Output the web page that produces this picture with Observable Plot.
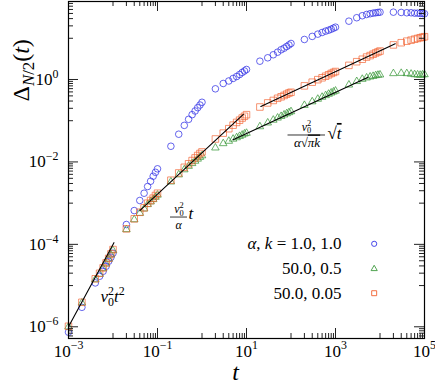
<!DOCTYPE html>
<html><head><meta charset="utf-8">
<script src="https://cdn.jsdelivr.net/npm/d3@7"></script>
<script src="https://cdn.jsdelivr.net/npm/@observablehq/plot@0.6"></script>
<style>html,body{margin:0;padding:0;background:#fff} svg{display:block} svg text{font-family:"Liberation Serif","DejaVu Serif",serif !important}</style>
</head><body><div id="chart"></div>
<script>
// ---- data ----
const times = [
  0.001,0.002,0.004,0.005,0.006,0.007,0.008,0.009,0.01,
  0.02,0.03,0.04,0.05,0.06,0.07,0.08,0.09,0.1,
  0.2,0.3,0.4,0.5,0.6,0.7,0.8,0.9,1,
  2,3,4,5,6,7,8,9,10,
  20,30,40,50,60,70,80,90,100,
  200,300,400,500,600,700,800,900,1000,
  2000,3000,4000,5000,6000,7000,8000,9000,10000,
  20000,30000,40000,50000,60000,70000,80000,90000,100000
];
const deltaA1k1 = [
  7.4e-7,2.97e-6,1.16e-5,1.68e-5,2.22e-5,2.94e-5,3.89e-5,4.86e-5,6.1e-5,
  3.03e-4,6.6e-4,1.16e-3,1.74e-3,2.53e-3,3.4e-3,4.5e-3,5.6e-3,6.8e-3,
  0.024,0.047,0.077,0.108,0.14,0.172,0.207,0.24,0.28,
  0.594,0.80,0.92,1.06,1.18,1.32,1.48,1.61,1.75,
  2.78,3.36,3.98,4.6,5.26,5.75,6.32,6.88,7.48,
  9.35,11.1,12.6,13.8,14.9,15.7,16.6,17.6,18.6,
  26.0,31.5,35.2,37.8,39.4,40.7,41.6,42.3,43.0,
  43.0,42.3,41.6,41.6,40.7,40.7,40.0,40.0,39.4
];
const deltaA50k05 = [
  1.0e-6,3.8e-6,1.4e-5,1.9e-5,2.6e-5,3.4e-5,4.4e-5,5.6e-5,7.1e-5,
  2.3e-4,4.0e-4,5.7e-4,7.3e-4,9.3e-4,1.08e-3,1.23e-3,1.4e-3,1.58e-3,
  3.3e-3,4.9e-3,6.5e-3,7.9e-3,9.2e-3,1.05e-2,1.18e-2,1.3e-2,1.42e-2,
  0.022,0.028,0.032,0.036,0.039,0.042,0.045,0.048,0.05,
  0.072,0.089,0.104,0.117,0.128,0.139,0.149,0.158,0.167,
  0.237,0.29,0.335,0.374,0.41,0.443,0.474,0.502,0.528,
  0.74,0.9,1.02,1.1,1.16,1.2,1.25,1.28,1.3,
  1.4,1.42,1.4,1.36,1.32,1.3,1.28,1.3,1.32
];
const deltaA50k005 = [
  1.03e-6,3.93e-6,1.46e-5,1.99e-5,2.69e-5,3.55e-5,4.57e-5,5.87e-5,7.48e-5,
  2.38e-4,4.16e-4,6.0e-4,7.69e-4,9.95e-4,1.16e-3,1.32e-3,1.53e-3,1.74e-3,
  3.6e-3,5.4e-3,7.4e-3,9.0e-3,1.08e-2,1.25e-2,1.43e-2,1.6e-2,1.75e-2,
  0.036,0.05,0.064,0.078,0.091,0.103,0.116,0.128,0.14,
  0.215,0.27,0.31,0.35,0.38,0.41,0.44,0.47,0.49,
  0.70,0.86,0.99,1.1,1.2,1.3,1.4,1.48,1.56,
  2.2,2.7,3.1,3.5,3.8,4.1,4.4,4.65,4.9,
  6.9,7.8,8.5,9.0,9.5,9.9,10.3,10.6,10.9
];
// reference scaling lines (end points)
const fitNames = ["t2", "t", "sqrt_green", "sqrt_orange"];
const fitT = [[1e-3, 1.05e-2], [0.04, 8.5], [5, 5400], [21, 22000]];
const fitDelta = [[1e-6, 1.1e-4], [6.6e-4, 0.142], [0.0344, 1.13], [0.221, 7.35]];

const legendLabels = ["$α$, $k$ = 1.0, 1.0", "50.0, 0.5", "50.0, 0.05"];
const xMajorTicks = [1e-3, 1e-1, 1e1, 1e3, 1e5];
const yMajorTicks = [1e-6, 1e-4, 1e-2, 1e0];

// ---- layout ----
const W = 435, H = 387, mL = 68, mR = 11, mT = 1, mB = 49;
const fw = W - mL - mR, fh = H - mT - mB;
const xDomain = [1e-3, 1e5], yDomain = [5.2e-7, 78];
const C_BLUE = "#3434e6", C_GREEN = "#3e9a3e", C_ORANGE = "#f2602e";
const FONT = "'Liberation Serif', 'DejaVu Serif', serif";

const inDom = (v, d) => v >= d[0] * 0.999 && v <= d[1] * 1.001;
const minorOf = (majors, dom) => {
  const out = [];
  for (const M of [...majors, majors[majors.length - 1] * 100]) {
    for (let m = 1; m <= 9; m++) out.push(m * M / 10);
  }
  return out.filter(v => inDom(v, dom) && !majors.includes(v));
};
const xMinor = minorOf(xMajorTicks, xDomain);
const yMinor = minorOf(yMajorTicks, yDomain);
const expLabel = d => { const e = Math.round(Math.log10(d)); return `10^{${e < 0 ? "\u2212" + (-e) : e}}`; };

const rowsOf = (vals, name) => times.map((t, i) => ({t, v: vals[i], name}));
const fitRows = fitNames.flatMap((id, i) => fitT[i].map((t, j) => ({id, t, v: fitDelta[i][j]})));

// legend anchored in data coordinates of the frame
const legendTextT = 1365, legendMarkT = 7400;
const legendRowDelta = [1.03e-4, 2.55e-5, 6.53e-6];
const legendSymbols = ["circle", "triangle", "square"];
const legendColors = [C_BLUE, C_GREEN, C_ORANGE];
const legendR = [2.6, 2.3, 2.8];

// annotations (data coordinates)
const ann = [
  {text: "$v$_{0}^{2}$t$^{2}", t: 5.24e-3, v: 5.4e-6, fs: 17, anchor: "start"},
  {text: "$v$_{0}^{2}", t: 0.304, v: 7.2e-4, fs: 12, anchor: "middle"},
  {text: "$α$", t: 0.297, v: 2.87e-4, fs: 12, anchor: "middle"},
  {text: "$t$", t: 0.498, v: 5.6e-4, fs: 17, anchor: "start"},
  {text: "$v$_{0}^{2}", t: 223, v: 0.0715, fs: 12, anchor: "middle"},
  {text: "$α$√~{$πk$}", t: 229, v: 0.0283, fs: 13, anchor: "middle"},
  {text: "√~{$t$}", t: 661, v: 0.0489, fs: 17, anchor: "start"}
];
const fracBars = [{v: 4.6e-4, t1: 0.196, t2: 0.472}, {v: 0.045, t1: 85.7, t2: 596}];

const txt = {fontFamily: FONT};
const marks = [
  Plot.dot(rowsOf(deltaA1k1, "a"), {x: "t", y: "v", symbol: "circle", r: 3.3, stroke: C_BLUE, fill: "none", strokeWidth: 0.9, strokeOpacity: 0.85}),
  Plot.dot(rowsOf(deltaA50k05, "b"), {x: "t", y: "v", symbol: "triangle", r: 2.8, stroke: C_GREEN, fill: "none", strokeWidth: 0.9, strokeOpacity: 0.85}),
  Plot.dot(rowsOf(deltaA50k005, "c"), {x: "t", y: "v", symbol: "square", r: 3.7, stroke: C_ORANGE, fill: "none", strokeWidth: 0.9, strokeOpacity: 0.75}),
  Plot.line(fitRows, {x: "t", y: "v", z: "id", stroke: "black", strokeWidth: 1.1}),
  // ticks (inward, on all four sides)
  Plot.ruleX(xMajorTicks, {x: d => d, insetTop: fh - 10, stroke: "#222"}),
  Plot.ruleX(xMajorTicks, {x: d => d, insetBottom: fh - 10, stroke: "#222"}),
  Plot.ruleX(xMinor, {x: d => d, insetTop: fh - 5, stroke: "#222"}),
  Plot.ruleX(xMinor, {x: d => d, insetBottom: fh - 5, stroke: "#222"}),
  Plot.ruleY(yMajorTicks, {y: d => d, insetRight: fw - 10, stroke: "#222"}),
  Plot.ruleY(yMajorTicks, {y: d => d, insetLeft: fw - 10, stroke: "#222"}),
  Plot.ruleY(yMinor, {y: d => d, insetRight: fw - 5, stroke: "#222"}),
  Plot.ruleY(yMinor, {y: d => d, insetLeft: fw - 5, stroke: "#222"}),
  Plot.frame({stroke: "black", strokeWidth: 1.2}),
  // tick labels
  Plot.text(xMajorTicks, {...txt, x: d => d, frameAnchor: "bottom", dy: 18, text: expLabel, fontSize: 17}),
  Plot.text(yMajorTicks, {...txt, y: d => d, frameAnchor: "left", dx: -10, textAnchor: "end", text: expLabel, fontSize: 17}),
  // axis titles
  Plot.text(["$t$"], {...txt, frameAnchor: "bottom", dx: -11, dy: 41, fontSize: 24}),
  Plot.text(["Δ_{$N$/2}($t$)"], {...txt, frameAnchor: "top-left", dx: -57, dy: 100, rotate: -90, fontSize: 24}),
  // legend
  Plot.text(legendLabels, {...txt, x: () => legendTextT, y: (d, i) => legendRowDelta[i], textAnchor: "end", fontSize: 17}),
  ...legendSymbols.map((s, i) => Plot.dot([legendRowDelta[i]], {x: () => legendMarkT, y: d => d, symbol: s, r: legendR[i], stroke: legendColors[i], fill: "none", strokeWidth: 0.9})),
  // annotations
  ...ann.map(a => Plot.text([a], {...txt, x: "t", y: "v", text: "text", fontSize: a.fs, textAnchor: a.anchor})),
  Plot.ruleY(fracBars, {y: "v", x1: "t1", x2: "t2", stroke: "black", strokeWidth: 0.8})
];

const svg = Plot.plot({
  width: W, height: H, marginLeft: mL, marginRight: mR, marginTop: mT, marginBottom: mB,
  x: {type: "log", domain: xDomain, axis: null},
  y: {type: "log", domain: yDomain, axis: null},
  style: {fontFamily: FONT, background: "white", overflow: "visible"},
  marks
});
document.getElementById("chart").appendChild(svg);

// ---- turn light markup ($..$ italic, ^{} sup, _{} sub, ~{} overline) into tspans ----
function parseRuns(s) {
  const runs = []; let italic = false, mode = "n", over = false, i = 0;
  const push = ch => {
    const l = runs[runs.length - 1];
    if (l && l.italic === italic && l.mode === mode && l.over === over) l.text += ch;
    else runs.push({text: ch, italic, mode, over});
  };
  while (i < s.length) {
    const c = s[i];
    if (c === "$") { italic = !italic; i++; continue; }
    if ((c === "^" || c === "_" || c === "~") && s[i + 1] === "{") {
      const end = s.indexOf("}", i + 2);
      const inner = s.slice(i + 2, end);
      const pm = mode, po = over;
      if (c === "~") over = true; else mode = c === "^" ? "sup" : "sub";
      for (const ch of inner) { if (ch === "$") italic = !italic; else push(ch); }
      mode = pm; over = po; i = end + 1; continue;
    }
    push(c); i++;
  }
  return runs;
}
svg.querySelectorAll("text").forEach(el => {
  const s = el.textContent;
  if (!/[\$\^_~]/.test(s)) return;
  const fs = parseFloat(getComputedStyle(el).fontSize);
  el.textContent = "";
  let cur = 0, prev = null;
  for (const r of parseRuns(s)) {
    const ts = document.createElementNS("http://www.w3.org/2000/svg", "tspan");
    ts.textContent = r.text;
    if (r.italic) ts.setAttribute("font-style", "italic");
    let target = 0;
    if (r.mode === "sup") { ts.setAttribute("font-size", (0.7 * fs).toFixed(2)); target = -0.42 * fs; }
    if (r.mode === "sub") { ts.setAttribute("font-size", (0.7 * fs).toFixed(2)); target = 0.24 * fs; }
    if (target !== cur) ts.setAttribute("dy", (target - cur).toFixed(2));
    cur = target;
    if (r.over) ts.setAttribute("text-decoration", "overline");
    el.appendChild(ts);
    if (r.mode === "sup" && prev && prev.mode === "sub") {
      ts.setAttribute("dx", (-prev.el.getComputedTextLength()).toFixed(2));
    }
    prev = {mode: r.mode, el: ts};
  }
});
</script>
</body></html>
